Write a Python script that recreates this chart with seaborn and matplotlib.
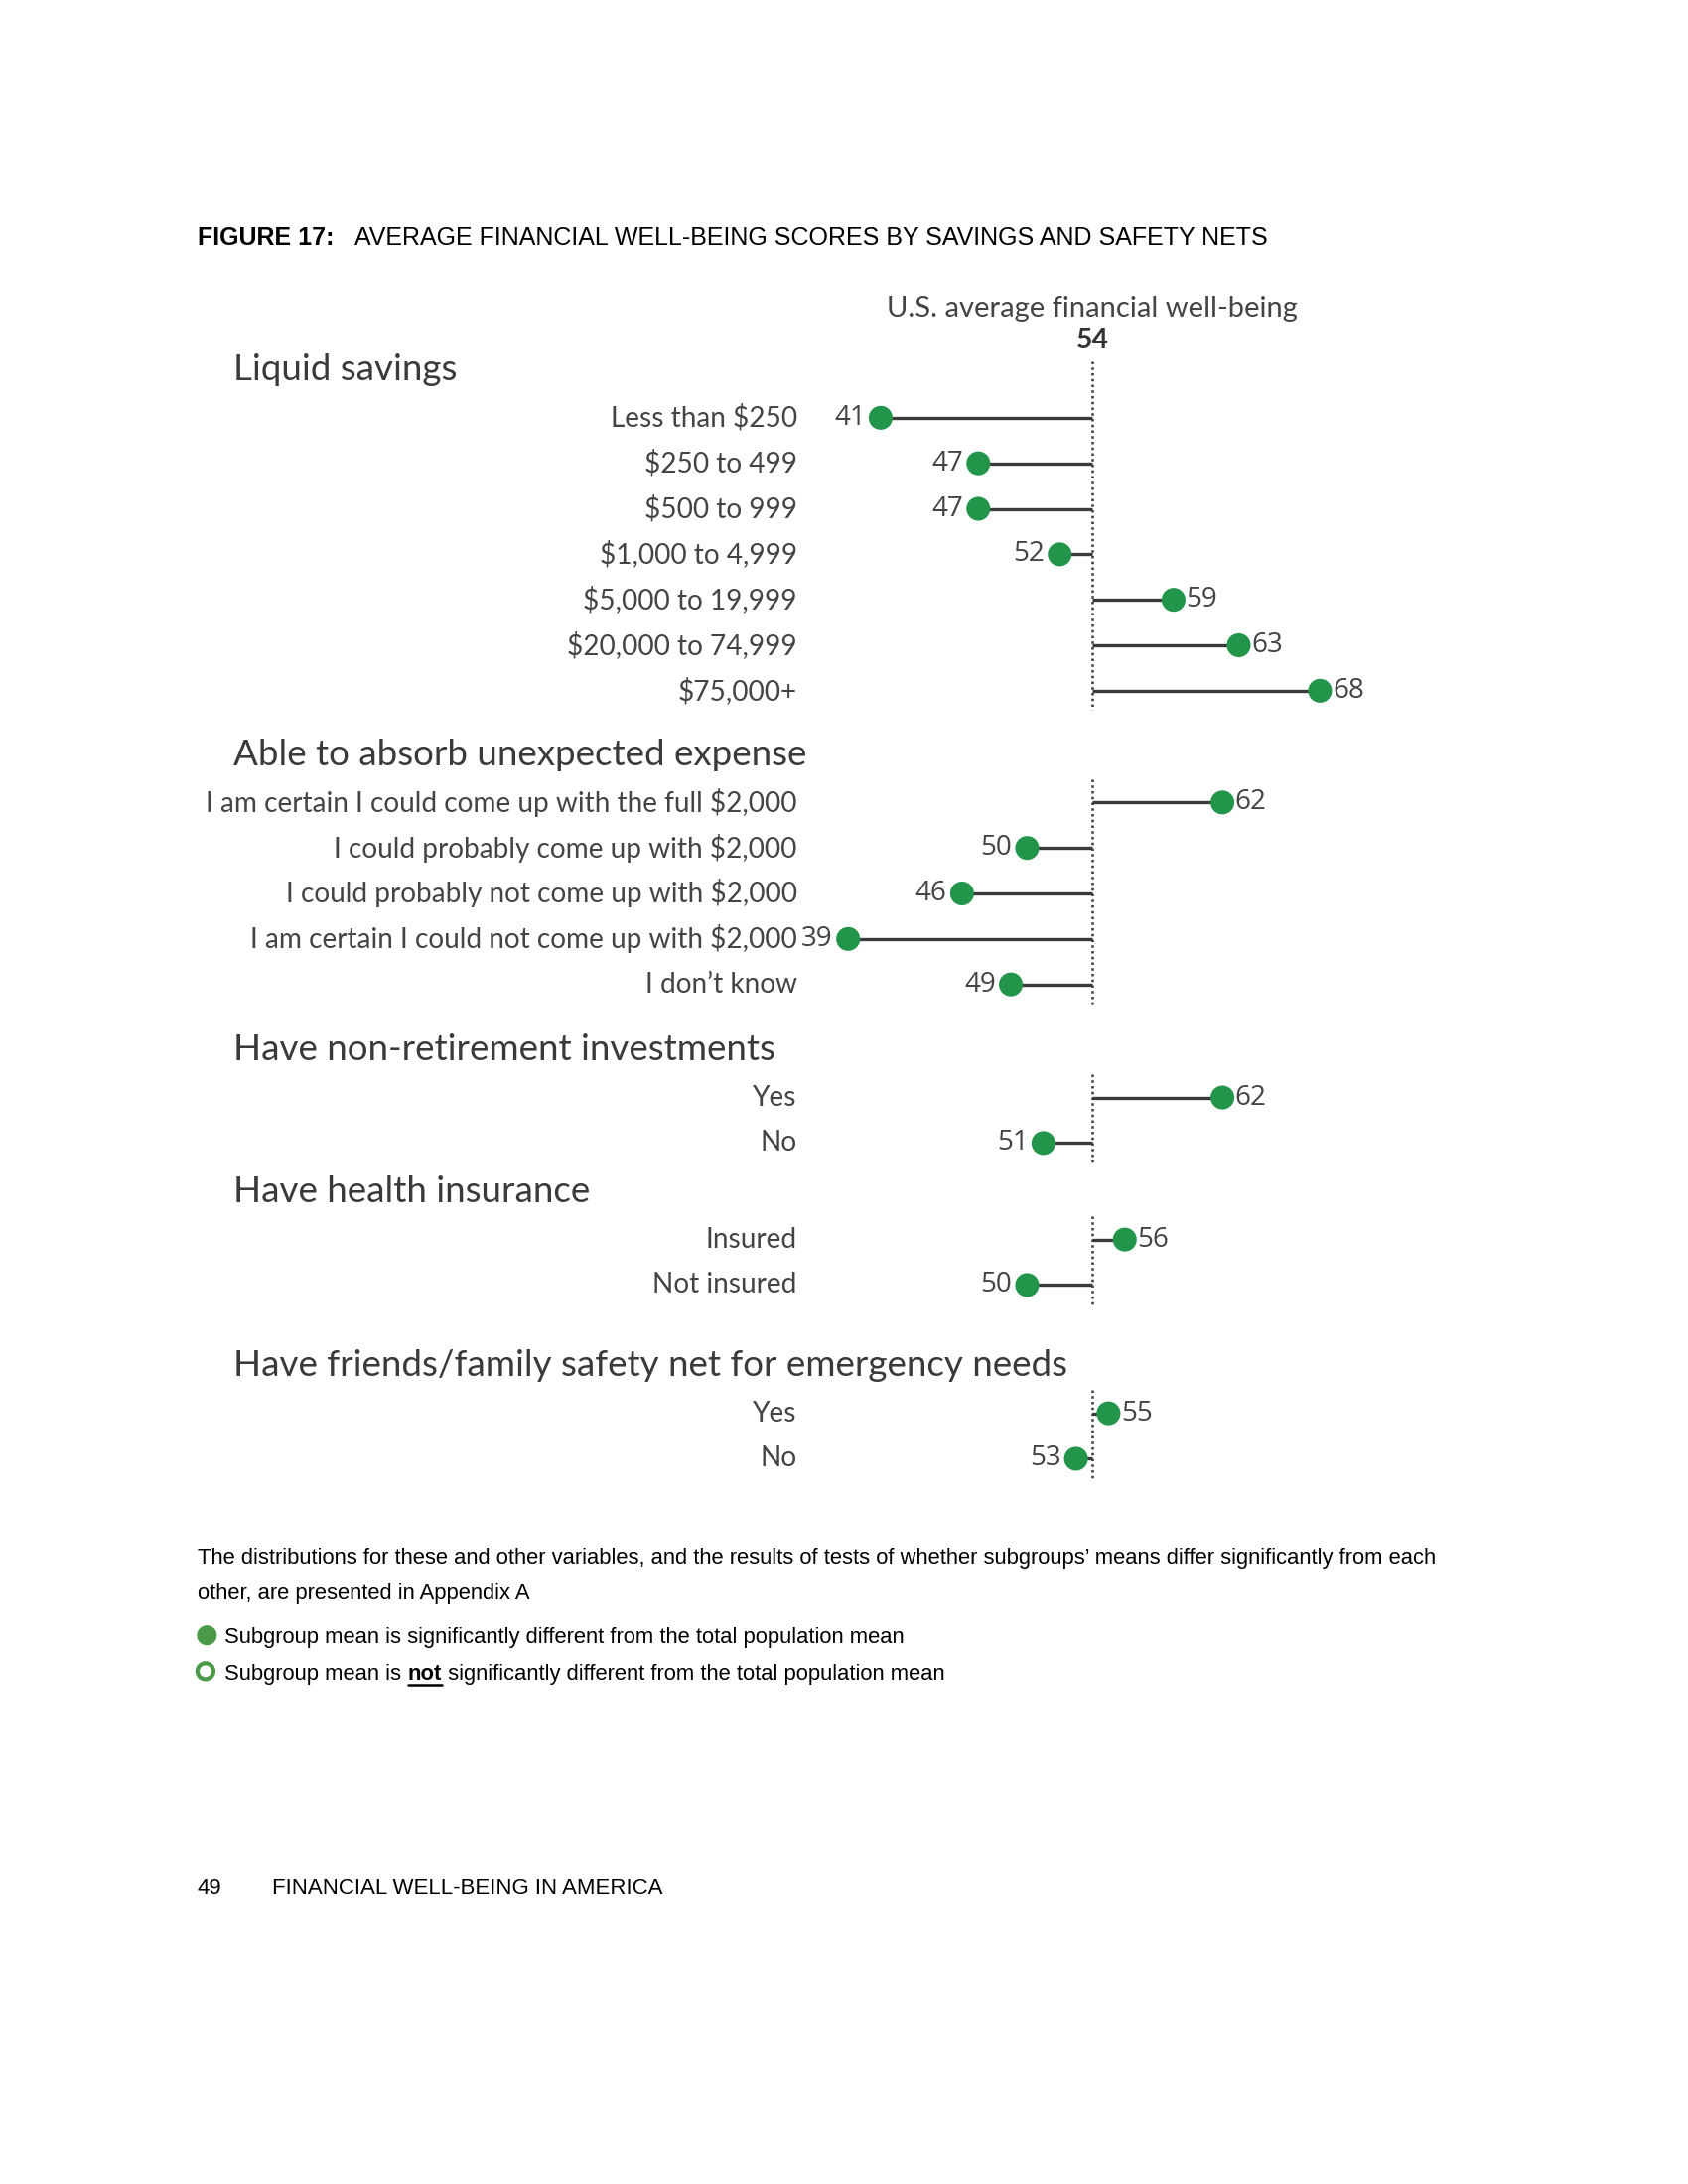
import matplotlib
matplotlib.use("Agg")
import matplotlib.pyplot as plt
import seaborn as sns
import pandas as pd
import numpy as np

# ---------------- data ----------------
groups = [
    "Liquid savings",
    "Able to absorb unexpected expense",
    "Have non-retirement investments",
    "Have health insurance",
    "Have friends/family safety net for emergency needs",
]
liquid_labels = ["Less than $250", "$250 to 499", "$500 to 999", "$1,000 to 4,999",
                 "$5,000 to 19,999", "$20,000 to 74,999", "$75,000+"]
liquid_scores = [41, 47, 47, 52, 59, 63, 68]
absorb_labels = ["I am certain I could come up with the full $2,000",
                 "I could probably come up with $2,000",
                 "I could probably not come up with $2,000",
                 "I am certain I could not come up with $2,000",
                 "I don\u2019t know"]
absorb_scores = [62, 50, 46, 39, 49]
invest_labels = ["Yes", "No"]
invest_scores = [62, 51]
health_labels = ["Insured", "Not insured"]
health_scores = [56, 50]
friends_labels = ["Yes", "No"]
friends_scores = [55, 53]
us_average = 54

# ---------------- layout ----------------
W, H = 1224.0, 1584.0          # reference design units
def fx(x): return x / W
def fy(y): return 1 - y / H

row_px = 33.3
first_row_px = [303, 582, 796, 899, 1025]   # design-unit y of first row in each group
group_offsets = [(p - first_row_px[0]) / row_px for p in first_row_px]

all_labels = [liquid_labels, absorb_labels, invest_labels, health_labels, friends_labels]
all_scores = [liquid_scores, absorb_scores, invest_scores, health_scores, friends_scores]

rows = []
for gi, (labs, scs) in enumerate(zip(all_labels, all_scores)):
    for ri, (l, s) in enumerate(zip(labs, scs)):
        rows.append({"group": groups[gi], "gi": gi, "label": l, "score": s,
                     "pos": group_offsets[gi] + ri * (33.0 / row_px)})
df = pd.DataFrame(rows)

sns.set_theme(style="white")
plt.rcParams["font.family"] = ["Lato", "DejaVu Sans"]

fig = plt.figure(figsize=(17, 22), dpi=100)
fig.patch.set_facecolor("white")

# axes: x in score units, y in row units
slope = 11.8
icpt = 792 - slope * 54
xlo, xhi = 30, 75
ytop_px, ybot_px = 236.4, 1102.2
ax = fig.add_axes([fx(icpt + slope * xlo), fy(ybot_px),
                   fx(icpt + slope * xhi) - fx(icpt + slope * xlo),
                   fy(ytop_px) - fy(ybot_px)])
ax.set_xlim(xlo, xhi)
ax.set_ylim((ybot_px - first_row_px[0]) / row_px, (ytop_px - first_row_px[0]) / row_px)
ax.axis("off")

green = "#23954a"
text_col = "#444444"
line_col = "#3a3a3a"

# stems
ax.hlines(df["pos"], us_average, df["score"], color=line_col, lw=2.4, zorder=1)

# dotted reference line per group
for gi in range(len(groups)):
    sub = df[df.gi == gi]
    top = sub.pos.min() - (1.23 if gi == 0 else 0.5)
    bot = sub.pos.max() + 0.42
    ax.vlines(us_average, top, bot, color=line_col, lw=1.8,
              linestyles=(0, (1.0, 1.3)), zorder=2)

# dots
sns.scatterplot(data=df, x="score", y="pos", ax=ax, color=green, s=300,
                edgecolor="none", linewidth=0, zorder=3, legend=False)

# value labels
num_font = ["Open Sans", "DejaVu Sans"]
for _, r in df.iterrows():
    if r.score < us_average:
        ax.annotate(f"{r.score}", (r.score, r.pos), xytext=(-11, 0),
                    textcoords="offset points", ha="right", va="center",
                    fontsize=20, color=text_col, family=num_font)
    else:
        ax.annotate(f"{r.score}", (r.score, r.pos), xytext=(9, 0),
                    textcoords="offset points", ha="left", va="center",
                    fontsize=20, color=text_col, family=num_font)

# row labels and group headers
tr = matplotlib.transforms.blended_transform_factory(fig.transFigure, ax.transData)
for _, r in df.iterrows():
    ax.text(fx(578), r.pos, r.label, transform=tr, ha="right", va="center",
            fontsize=20.2, color=text_col)
for gi, g in enumerate(groups):
    ax.text(fx(169), group_offsets[gi] - 1.04, g, transform=tr, ha="left",
            va="center", fontsize=26.5, color="#3a3a3a")

# reference annotation
fig.text(fx(792), fy(224), "U.S. average financial well-being", ha="center",
         va="center", fontsize=21, color=text_col)
fig.text(fx(792), fy(247), f"{us_average}", ha="center", va="center",
         fontsize=20.5, color="#333333", fontweight="bold")

# figure title
hel = ["Liberation Sans", "DejaVu Sans"]
fig.text(fx(143), fy(173), "FIGURE 17:", ha="left", va="center", fontsize=18,
         fontweight="bold", family=hel, color="black")
fig.text(fx(257), fy(173), "AVERAGE FINANCIAL WELL-BEING SCORES BY SAVINGS AND SAFETY NETS",
         ha="left", va="center", fontsize=18, family=hel, color="black")

# footnote
fs = 15.8
fig.text(fx(143), fy(1130), "The distributions for these and other variables, and the results of tests "
         "of whether subgroups\u2019 means differ significantly from each",
         ha="left", va="center", fontsize=fs, family=hel, color="black")
fig.text(fx(143), fy(1156), "other, are presented in Appendix A",
         ha="left", va="center", fontsize=fs, family=hel, color="black")

# legend
leg_green = "#4a9a48"
fig.add_artist(matplotlib.patches.Ellipse((fx(150), fy(1186)), 0.0118, 0.0091,
               transform=fig.transFigure, facecolor=leg_green, edgecolor="none"))
fig.add_artist(matplotlib.patches.Ellipse((fx(149), fy(1212)), 0.0095, 0.0073,
               transform=fig.transFigure, facecolor="white", edgecolor=leg_green, lw=3))
fig.text(fx(163), fy(1188), "Subgroup mean is significantly different from the total population mean",
         ha="left", va="center", fontsize=fs, family=hel, color="black")

renderer = fig.canvas.get_renderer()
t1 = fig.text(fx(163), fy(1214), "Subgroup mean is ", ha="left", va="center",
              fontsize=fs, family=hel, color="black")
bb1 = t1.get_window_extent(renderer)
x_not = bb1.x1 / fig.bbox.width
t2 = fig.text(x_not, fy(1214), "not", ha="left", va="center", fontsize=fs,
              family=hel, color="black", fontweight="bold")
bb2 = t2.get_window_extent(renderer)
fig.add_artist(matplotlib.lines.Line2D([bb2.x0 / fig.bbox.width, bb2.x1 / fig.bbox.width],
               [fy(1221.5), fy(1221.5)], transform=fig.transFigure, color="black", lw=1.8))
fig.text(bb2.x1 / fig.bbox.width, fy(1214), " significantly different from the total population mean",
         ha="left", va="center", fontsize=fs, family=hel, color="black")

# page footer
fig.text(fx(143), fy(1370), "49", ha="left", va="center", fontsize=16, family=hel, color="black")
fig.text(fx(197), fy(1370), "FINANCIAL WELL-BEING IN AMERICA", ha="left", va="center",
         fontsize=16, family=hel, color="black")

fig.savefig("out.png", dpi=100, facecolor="white")
